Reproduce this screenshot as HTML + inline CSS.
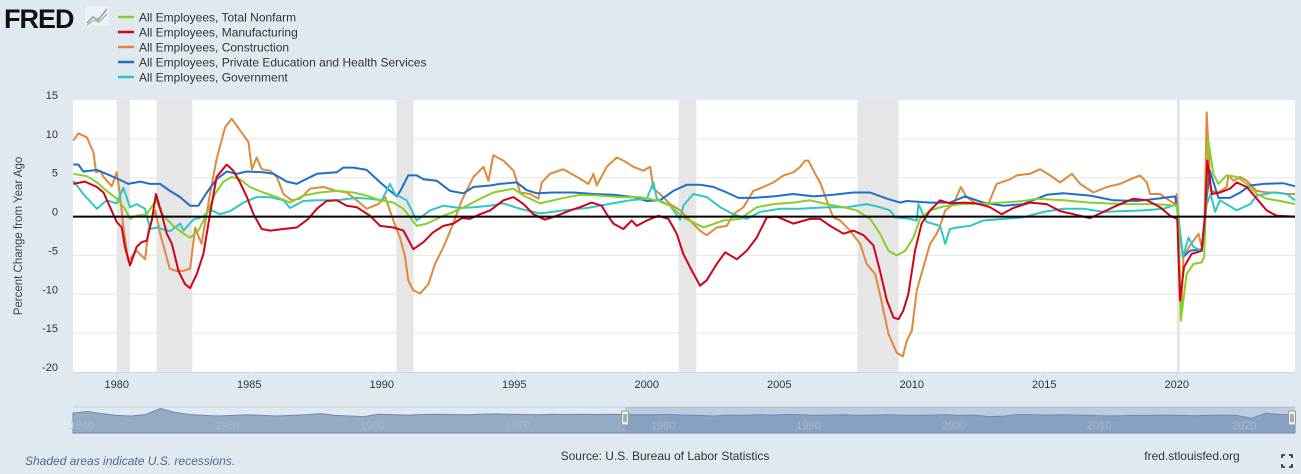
<!DOCTYPE html>
<html><head><meta charset="utf-8"><style>
html,body{margin:0;padding:0;background:#e1e9f0;width:1301px;height:474px;overflow:hidden;font-family:"Liberation Sans",sans-serif;}
svg{display:block}
</style></head><body>
<svg id="chart" width="1301" height="474" xmlns="http://www.w3.org/2000/svg">
<rect x="0" y="0" width="1301" height="474" fill="#e1e9f0"/>
<g>
<text x="4" y="28" font-size="27" font-weight="bold" fill="#111" letter-spacing="-1">FRED</text>
<rect x="85" y="6" width="24" height="20" fill="#eef2f5" rx="2"/>
<polyline points="87,23 93,17 98,20 107,9" fill="none" stroke="#7fa3c7" stroke-width="1.5"/>
<polyline points="87,25 94,20 99,22 107,14" fill="none" stroke="#8cc063" stroke-width="1.2"/>
</g>
<g id="legend"></g>
<rect x="73" y="100" width="1222" height="272" fill="#ffffff"/>
<g id="recessions"></g>
<g id="grid"></g>
<g id="series"></g>
<g id="yaxis"></g>
<g id="xaxis"></g>
<text x="22" y="236" font-size="11.5" fill="#444" text-anchor="middle" transform="rotate(-90 22 236)">Percent Change from Year Ago</text>
<g id="navigator"></g>
<text x="25" y="465" font-size="12" font-style="italic" fill="#4f6a8a">Shaded areas indicate U.S. recessions.</text>
<text x="665" y="460" font-size="12" fill="#333" text-anchor="middle">Source: U.S. Bureau of Labor Statistics</text>
<text x="1192" y="460" font-size="12" fill="#333" text-anchor="middle">fred.stlouisfed.org</text>
<g stroke="#222" stroke-width="1.6" fill="none">
<polyline points="1282,458 1282,455 1285,455"/><polyline points="1289,455 1292,455 1292,458"/>
<polyline points="1282,464 1282,467 1285,467"/><polyline points="1289,467 1292,467 1292,464"/>
</g>
</svg>
<script>
const yTicks = [15, 10, 5, 0, -5, -10, -15, -20];
const xTicks = [1980, 1985, 1990, 1995, 2000, 2005, 2010, 2015, 2020];
const recessionStarts = [1980.0, 1981.5, 1990.55, 2001.2, 2007.95, 2020.0];
const recessionEnds = [1980.5, 1982.85, 1991.2, 2001.87, 2009.5, 2020.12];
const seriesNames = ["All Employees, Total Nonfarm","All Employees, Manufacturing","All Employees, Construction","All Employees, Private Education and Health Services","All Employees, Government"];

const nonfarmDates = [1978.36,1978.87,1979.25,1979.62,1980.0,1980.31,1980.5,1980.75,1981.13,1981.48,1981.76,1982.14,1982.52,1982.77,1983.08,1983.4,1983.71,1984.03,1984.34,1984.65,1985.03,1985.53,1986.04,1986.54,1987.04,1987.67,1988.3,1988.93,1989.43,1989.94,1990.44,1990.82,1991.32,1991.7,1992.2,1992.7,1993.21,1993.71,1994.21,1994.97,1995.35,1995.97,1996.73,1997.48,1998.24,1999.0,1999.75,2000.38,2000.88,2001.38,2002.14,2002.89,2003.52,2004.15,2004.78,2005.53,2006.16,2006.79,2007.42,2007.92,2008.43,2008.8,2009.12,2009.43,2009.75,2010.06,2010.31,2010.69,2011.19,2011.82,2012.95,2014.21,2014.71,2015.72,2016.73,2017.99,2019.24,2020.0,2020.07,2020.15,2020.37,2020.63,2020.94,2021.03,2021.19,2021.38,2021.57,2021.88,2022.26,2022.64,2023.02,2023.39,2023.9,2024.46];
const nonfarmValues = [5.5,5.2,4.4,3.3,2.3,1.0,-0.3,0.1,0.3,2.1,0.1,-1.2,-2.2,-2.7,-1.8,0.3,2.9,4.5,5.1,4.8,3.8,3.1,2.5,1.8,2.7,3.1,3.3,3.1,2.7,2.1,1.8,1.0,-1.2,-0.9,-0.1,0.6,1.4,2.3,3.1,3.6,2.7,1.7,2.3,2.8,2.7,2.5,2.5,2.1,1.4,-0.1,-1.4,-0.5,-0.3,1.2,1.6,1.8,2.1,1.6,1.2,0.8,-0.3,-2.2,-4.4,-5.0,-4.4,-2.7,-0.3,0.8,1.3,1.6,1.7,2.0,2.3,2.1,1.8,1.6,1.6,1.4,-1.4,-13.4,-7.4,-6.1,-5.9,-5.2,9.8,5.5,4.2,5.3,5.1,4.2,2.9,2.3,2.0,1.6];

const mfgDates = [1978.36,1978.8,1979.25,1979.5,1979.75,1980.0,1980.19,1980.31,1980.5,1980.75,1980.94,1981.13,1981.32,1981.48,1981.7,1981.89,1982.08,1982.33,1982.58,1982.77,1983.02,1983.27,1983.52,1983.77,1984.15,1984.4,1984.65,1984.91,1985.16,1985.47,1985.79,1986.29,1986.79,1987.23,1987.55,1987.92,1988.3,1988.68,1989.06,1989.56,1989.94,1990.44,1990.82,1991.19,1991.57,1991.95,1992.33,1992.7,1993.02,1993.33,1993.71,1994.09,1994.59,1994.97,1995.35,1995.72,1996.16,1996.6,1997.11,1997.48,1997.92,1998.3,1998.49,1998.74,1999.12,1999.43,1999.62,2000.0,2000.44,2000.82,2001.13,2001.38,2001.63,2002.01,2002.26,2002.64,2002.96,2003.4,2003.77,2004.15,2004.53,2004.9,2005.53,2006.16,2006.54,2006.92,2007.42,2007.8,2008.18,2008.55,2008.8,2009.06,2009.31,2009.5,2009.68,2009.87,2010.12,2010.37,2010.69,2011.07,2011.44,2011.95,2012.45,2012.95,2013.39,2013.83,2014.46,2015.09,2015.6,2016.1,2016.73,2017.23,2017.73,2018.36,2018.87,2019.37,2019.75,2020.02,2020.12,2020.27,2020.56,2020.94,2021.07,2021.15,2021.32,2021.63,2022.01,2022.26,2022.64,2023.02,2023.39,2023.77,2024.46];
const mfgValues = [4.2,4.5,3.8,3.1,1.2,-0.7,-1.4,-3.9,-6.3,-3.9,-3.3,-3.1,-0.5,2.9,0.3,-2.2,-3.5,-7.0,-8.7,-9.2,-7.4,-4.8,0.3,5.1,6.7,5.9,4.4,2.5,0.3,-1.6,-1.8,-1.6,-1.4,-0.3,1.0,2.0,2.1,1.4,1.2,0.1,-1.2,-1.4,-1.8,-4.2,-3.3,-2.0,-1.2,-0.9,-0.2,-0.3,0.3,0.8,2.1,2.5,1.6,0.3,-0.4,0.1,0.8,1.2,1.8,1.4,0.3,-0.9,-1.6,-0.5,-1.2,-0.5,0.1,-0.3,-2.2,-4.8,-6.5,-8.9,-8.2,-6.1,-4.6,-5.5,-4.4,-2.7,-0.1,0,-0.9,-0.3,-0.3,-1.2,-2.2,-1.8,-2.4,-3.7,-7.0,-10.8,-13.0,-13.2,-12.1,-10.0,-4.4,-0.9,0.8,2.1,1.7,1.8,1.7,1.2,0.3,1.1,1.8,1.6,0.7,0.3,-0.2,0.6,1.4,2.3,2.1,1.2,0.1,-0.3,-10.8,-6.5,-4.8,-4.4,0.3,7.2,2.9,3.1,3.6,4.4,3.8,2.3,0.8,0.1,0];

const conDates = [1978.36,1978.55,1978.87,1979.12,1979.22,1979.37,1979.5,1979.81,1980.0,1980.12,1980.25,1980.44,1980.75,1981.07,1981.2,1981.45,1981.64,1982.0,1982.26,1982.5,1982.77,1982.96,1983.2,1983.52,1983.77,1984.09,1984.34,1984.65,1984.97,1985.1,1985.28,1985.47,1985.79,1986.04,1986.29,1986.6,1986.92,1987.3,1987.8,1988.3,1988.68,1989.06,1989.43,1989.87,1990.13,1990.44,1990.69,1990.88,1991.0,1991.19,1991.45,1991.76,1992.01,1992.33,1992.64,1993.02,1993.46,1993.84,1994.03,1994.21,1994.59,1994.97,1995.22,1995.6,1995.91,1996.04,1996.35,1996.85,1997.36,1997.8,1997.99,1998.11,1998.49,1998.87,1999.12,1999.5,1999.87,2000.13,2000.25,2000.5,2000.88,2001.26,2001.63,2002.01,2002.26,2002.64,2003.02,2003.27,2003.65,2004.02,2004.4,2004.78,2005.16,2005.53,2005.79,2005.97,2006.1,2006.29,2006.54,2006.79,2007.04,2007.3,2007.67,2008.05,2008.3,2008.62,2008.8,2009.12,2009.43,2009.66,2009.81,2010.0,2010.19,2010.44,2010.69,2010.94,2011.07,2011.26,2011.57,2011.85,2012.07,2012.45,2012.89,2013.2,2013.71,2013.96,2014.46,2014.84,2015.22,2015.6,2016.04,2016.35,2016.85,2017.36,2017.86,2018.24,2018.61,2018.87,2018.99,2019.37,2019.62,2019.94,2020.0,2020.06,2020.15,2020.25,2020.5,2020.82,2020.94,2021.03,2021.13,2021.28,2021.57,2021.88,2021.95,2022.14,2022.39,2022.64,2023.02,2023.39,2023.77,2024.15,2024.46];
const conValues = [9.8,10.7,10.2,8.3,5.7,5.9,5.1,3.9,5.7,2.9,-1.4,-5.7,-4.4,-5.5,-1.8,0.8,-2.2,-6.7,-7.0,-7.0,-6.7,-1.4,-3.5,2.9,7.4,11.5,12.6,11.1,9.6,6.1,7.6,6.1,5.9,5.1,2.9,2.1,2.3,3.6,3.8,3.3,3.1,2.1,1.0,1.6,2.5,-0.5,-2.7,-5.2,-8.2,-9.5,-9.9,-8.7,-6.1,-3.9,-1.4,2.1,5.1,6.4,4.6,7.9,7.2,5.9,3.1,2.9,2.3,4.4,5.5,6.1,5.1,4.2,5.5,4.0,6.4,7.6,7.2,6.4,5.9,6.4,3.6,2.9,1.6,0.8,-0.5,-1.8,-2.4,-1.4,-1.2,0.3,1.2,3.3,3.8,4.4,5.3,5.7,6.4,7.2,7.2,5.9,4.4,2.1,-0.1,-0.5,-1.8,-3.5,-6.1,-7.4,-10.0,-15.1,-17.5,-18.0,-16.0,-14.7,-9.5,-6.5,-3.5,-2.2,-1.2,0.8,1.6,3.8,2.5,1.6,1.6,4.2,4.8,5.3,5.5,6.1,5.3,4.4,5.5,4.2,3.1,3.8,4.2,4.8,5.3,4.4,2.9,2.9,2.3,1.6,2.9,-0.1,-13.0,-5.2,-3.7,-2.2,-3.9,-3.1,13.4,3.3,3.1,3.8,5.3,4.6,5.1,4.6,3.3,3.1,3.1,2.9,2.9];

const eduDates = [1978.36,1978.55,1978.74,1979.25,1979.75,1980.13,1980.44,1980.88,1981.26,1981.64,1982.01,1982.39,1982.77,1983.08,1983.4,1983.77,1984.15,1984.53,1984.91,1985.53,1985.91,1986.42,1986.79,1987.55,1988.3,1988.55,1988.93,1989.43,1989.94,1990.31,1990.57,1990.75,1991.0,1991.32,1991.57,1992.08,1992.58,1993.08,1993.46,1994.09,1994.46,1995.09,1995.47,1995.85,1996.48,1997.23,1997.99,1998.74,1999.5,2000.0,2000.5,2001.0,2001.51,2002.01,2002.52,2003.02,2003.46,2004.02,2004.78,2005.53,2006.29,2007.04,2007.8,2008.43,2009.06,2009.56,2009.81,2010.69,2011.44,2012.01,2012.7,2013.46,2014.21,2015.09,2015.72,2016.73,2017.61,2018.49,2019.24,2019.94,2020.06,2020.23,2020.5,2020.94,2021.1,2021.25,2021.57,2022.01,2022.39,2022.77,2023.27,2024.02,2024.46];
const eduValues = [6.7,6.7,5.8,6.0,5.3,4.7,4.2,4.5,4.2,4.2,3.3,2.5,1.4,1.4,3.1,4.8,5.8,5.5,5.8,5.7,5.5,4.5,4.2,5.5,5.7,6.3,6.3,6.0,4.4,3.3,2.6,3.6,5.3,5.3,4.8,4.6,3.3,3.0,3.8,4.0,4.2,4.4,3.4,3.0,3.1,3.1,2.9,2.8,2.5,2.0,2.1,3.3,4.1,4.1,3.8,3.1,2.4,2.4,2.6,2.9,2.6,2.8,3.1,3.1,2.3,1.8,2.0,1.8,1.8,2.6,1.8,1.4,1.6,2.8,3.0,2.7,2.1,2.0,2.3,2.6,-0.1,-5.2,-4.4,-4.2,1.6,5.9,2.4,2.4,3.1,4.0,4.2,4.3,3.9];

const govDates = [1978.36,1978.74,1979.25,1979.62,1980.0,1980.25,1980.5,1980.75,1981.07,1981.26,1981.51,1982.01,1982.39,1982.52,1982.89,1983.27,1983.52,1983.9,1984.28,1984.78,1985.28,1985.79,1986.29,1986.54,1987.04,1987.55,1988.3,1989.06,1989.56,1990.0,1990.31,1990.5,1990.94,1991.32,1991.82,1992.33,1992.96,1993.46,1994.09,1994.59,1995.22,1995.97,1996.85,1997.74,1998.55,1999.37,2000.0,2000.25,2000.38,2000.88,2001.26,2001.38,2001.76,2002.26,2002.77,2003.27,2003.77,2004.28,2005.03,2005.79,2006.79,2007.55,2008.3,2008.8,2009.18,2009.37,2009.93,2010.19,2010.25,2010.56,2011.07,2011.26,2011.44,2011.7,2012.2,2012.7,2013.46,2014.21,2014.97,2015.72,2016.48,2017.23,2017.99,2018.74,2019.5,2020.0,2020.07,2020.23,2020.44,2020.63,2020.94,2021.13,2021.28,2021.45,2021.63,2022.26,2022.77,2023.02,2023.65,2024.15,2024.46];
const govValues = [4.6,2.9,1.0,2.1,1.7,3.7,1.2,1.6,1.0,-1.6,-1.4,-1.9,-0.9,-1.8,-0.4,0,0.9,0.3,0.7,1.8,2.5,2.5,2.1,1.1,2.0,2.1,2.1,2.4,2.3,2.1,4.2,2.9,2.1,-0.5,0.8,1.4,1.1,1.2,1.4,1.7,1.0,0.4,0.8,1.1,1.6,2.1,2.3,4.4,2.3,1.4,-0.4,1.4,2.9,2.5,1.2,0.3,-0.3,0.6,1.0,1.0,1.2,1.2,1.6,1.2,0.8,-0.1,-0.3,-0.5,1.6,-0.7,-1.2,-3.5,-1.6,-1.4,-1.2,-0.5,-0.3,-0.1,0.6,1.0,1.0,0.6,0.7,0.8,1.0,1.6,-0.5,-5.2,-2.7,-3.9,-4.4,1.6,2.9,0.6,2.1,0.8,1.6,2.7,3.1,2.9,2.1];

const navDecades = [1940, 1950, 1960, 1970, 1980, 1990, 2000, 2010, 2020];
const navProfile = [2,2.5,1.8,1.2,1.0,1.5,3.5,2.2,1.5,1.2,1.0,1.2,1.4,1.2,1.0,1.2,1.4,1.8,1.2,1.0,0.8,1.6,1.4,1.3,1.5,1.6,1.5,1.4,1.6,1.7,1.6,1.5,1.4,1.6,1.5,1.6,1.5,1.6,1.5,1.4,1.4,1.5,1.3,1.2,1.0,1.3,1.2,1.4,1.3,1.5,1.4,1.2,1.3,1.4,1.2,1.3,1.4,1.3,1.2,1.3,1.4,1.2,1.3,0.8,1.0,1.5,1.4,1.3,1.4,1.3,1.2,1.0,1.1,1.2,1.2,1.3,1.2,1.1,1.2,1.3,1.2,0.2,1.9,1.5,1.4];

const NS = "http://www.w3.org/2000/svg";
const X0 = 73, X1 = 1295, Y0 = 100, Y1 = 372;
const xMin = 1978.35, xMax = 2024.46, yMin = -20, yMax = 15;
const xScale = v => X0 + (v - xMin) / (xMax - xMin) * (X1 - X0);
const yScale = v => Y1 - (v - yMin) / (yMax - yMin) * (Y1 - Y0);
function mk(tag, attrs, parent) { const e = document.createElementNS(NS, tag); for (const k in attrs) e.setAttribute(k, attrs[k]); parent.appendChild(e); return e; }

const colors = ["#86d02a", "#d0021b", "#e0893a", "#1f6ec9", "#2fc6c8"];
const legend = document.getElementById("legend");
seriesNames.forEach((n, i) => {
  const y = 17 + i * 15;
  const ln = mk("line", {x1: 118, x2: 134, y1: y, y2: y, stroke: colors[i], "stroke-width": 2.5}, legend);
  
  
  const t = mk("text", {x: 139, y: y + 4.5, "font-size": 12, fill: "#333"}, legend);
  t.textContent = n;
  
  
});

const rec = document.getElementById("recessions");
recessionStarts.forEach((s, i) => {
  const r = mk("rect", {x: xScale(s), y: Y0, width: xScale(recessionEnds[i]) - xScale(s), height: Y1 - Y0, fill: "#e6e6e6"}, rec);
  
  
});

const grid = document.getElementById("grid"), ya = document.getElementById("yaxis");
yTicks.forEach(v => {
  if (v !== 0 && v !== yMax && v !== yMin) {
    const g = mk("line", {x1: X0, x2: X1, y1: yScale(v), y2: yScale(v), stroke: "#e6e6e6", "stroke-width": 1}, grid);
    
    
  }
  const t = mk("text", {x: 58, y: yScale(v) - 1, "font-size": 11, fill: "#333", "text-anchor": "end"}, ya);
  t.textContent = v;
  
  
});

const xa = document.getElementById("xaxis");
const base = mk("line", {x1: X0, x2: X1, y1: Y1 + 0.5, y2: Y1 + 0.5, stroke: "#ccd6eb", "stroke-width": 1}, xa);


xTicks.forEach(v => {
  const tk = mk("line", {x1: xScale(v), x2: xScale(v), y1: Y1, y2: Y1 + 6, stroke: "#ccd6eb"}, xa);
  
  
  const t = mk("text", {x: xScale(v), y: Y1 + 16, "font-size": 11, fill: "#333", "text-anchor": "middle"}, xa);
  t.textContent = v;
  
  
});

const sg = document.getElementById("series");
const allDates = [nonfarmDates, mfgDates, conDates, eduDates, govDates];
const allVals = [nonfarmValues, mfgValues, conValues, eduValues, govValues];
const names = ["line-total-nonfarm", "line-manufacturing", "line-construction", "line-education-health", "line-government"];
const order = [2, 3, 4, 0, 1];
order.forEach(i => {
  const pts = allDates[i].map((d, j) => xScale(d).toFixed(1) + "," + yScale(allVals[i][j]).toFixed(1)).join(" ");
  const p = mk("polyline", {points: pts, fill: "none", stroke: colors[i], "stroke-width": 2, "stroke-linejoin": "round"}, sg);
  
  
});
const zl = mk("line", {x1: X0, x2: X1, y1: yScale(0), y2: yScale(0), stroke: "#000", "stroke-width": 2}, sg);



// navigator
const nav = document.getElementById("navigator");
const NY0 = 407, NY1 = 433, navMin = 1940.36, navMax = 2024.46;
const nx = v => X0 + (v - navMin) / (navMax - navMin) * (X1 - X0);
mk("line", {x1: X0, x2: X1, y1: NY0, y2: NY0, stroke: "#c8cfd8"}, nav);
let d = "M" + X0 + "," + NY1;
navProfile.forEach((v, i) => {
  const x = X0 + i / (navProfile.length - 1) * (X1 - X0);
  d += " L" + x.toFixed(1) + "," + (NY1 - 14 - v * 3).toFixed(1);
});
d += " L" + X1 + "," + NY1 + " Z";
const area = mk("path", {d: d, fill: "#94abc6", stroke: "#6a8ab0", "stroke-width": 1}, nav);


const sel = mk("rect", {x: nx(xMin), y: NY0, width: X1 - nx(xMin), height: NY1 - NY0, fill: "rgba(110,140,190,0.3)"}, nav);


navDecades.forEach(v => {
  const t = mk("text", {x: nx(v) + 2, y: NY1 - 4, "font-size": 11, fill: "#a9b8c9"}, nav);
  t.textContent = v;
  
  
});
[nx(xMin), X1 - 3].forEach(x => {
  const h = mk("rect", {x: x - 3.5, y: NY0 + 4, width: 7, height: 14, fill: "#f2f2f2", stroke: "#999", rx: 1}, nav);
  
  
  mk("line", {x1: x - 1, x2: x - 1, y1: NY0 + 7, y2: NY0 + 15, stroke: "#666"}, nav);
  mk("line", {x1: x + 1, x2: x + 1, y1: NY0 + 7, y2: NY0 + 15, stroke: "#666"}, nav);
});
</script>
</body></html>
